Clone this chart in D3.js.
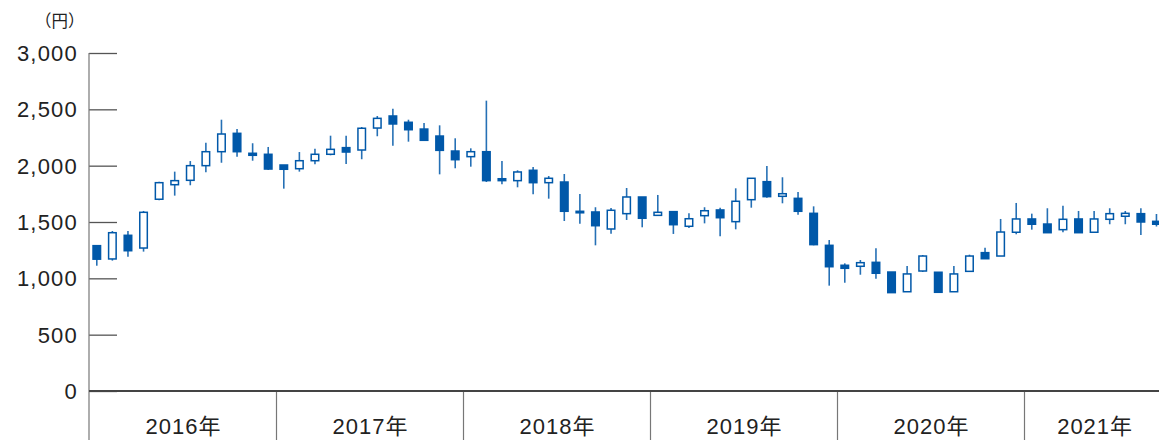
<!DOCTYPE html>
<html>
<head>
<meta charset="utf-8">
<style>
  body { margin: 0; background: #fff; }
  svg { display: block; font-family: "Liberation Sans", Arial, "Noto Sans CJK JP", sans-serif; }
</style>
</head>
<body>
<script src="https://d3js.org/d3.v7.min.js"></script>
<svg id="chart" width="1159" height="440"></svg>
<script>
// monthly candles, Jan 2016 .. Sep 2021
var months = d3.range(69).map(function (i) { return (2016 + Math.floor(i / 12)) + "-" + (i % 12 + 1); });
var opens  = [1290,1172,1382,1269,1702,1831,1870,2000,2124,2287,2110,2101,
              2006,1973,2044,2101,2160,2139,2334,2441,2385,2325,2263,2130,
              2080,2124,1884,1867,1959,1849,1855,1595,1589,1438,1574,1722,
              1559,1592,1462,1556,1607,1503,1698,1858,1728,1710,1577,1293,
              1116,1107,1142,1056,881,1065,1054,881,1062,1228,1198,1409,
              1527,1482,1432,1527,1409,1524,1551,1574,1506];
var closes = [1170,1405,1245,1586,1849,1867,2000,2124,2281,2124,2092,1970,
              1968,2044,2101,2145,2121,2332,2420,2370,2319,2225,2136,2053,
              2124,1867,1867,1944,1849,1888,1595,1590,1467,1604,1722,1533,
              1586,1476,1529,1600,1538,1684,1888,1725,1751,1595,1299,1103,
              1089,1139,1045,873,1039,1198,876,1039,1198,1174,1411,1527,
              1480,1405,1524,1405,1527,1574,1577,1500,1480];
var highs  = [1295,1420,1420,1598,1858,1947,2041,2204,2408,2325,2199,2166,
              2006,2121,2151,2266,2266,2343,2441,2506,2408,2379,2358,2243,
              2154,2577,2041,1959,1988,1908,1926,1749,1631,1624,1802,1722,
              1740,1592,1577,1631,1627,1799,1888,1997,1897,1766,1639,1340,
              1133,1163,1267,1056,1110,1207,1054,1110,1210,1272,1527,1669,
              1574,1622,1645,1598,1598,1622,1598,1622,1571];
var lows   = [1112,1157,1192,1237,1693,1734,1826,1941,2026,2080,2044,1962,
              1796,1947,2012,2092,2015,2057,2261,2177,2213,2225,1923,1977,
              1991,1855,1835,1808,1746,1707,1509,1485,1293,1396,1518,1453,
              1559,1394,1447,1488,1373,1435,1627,1716,1666,1565,1293,935,
              961,1032,997,873,881,1056,876,881,1056,1174,1198,1391,
              1432,1405,1409,1405,1409,1480,1480,1385,1460];
var years = ["2016年","2017年","2018年","2019年","2020年","2021年"];
var yTicks = [0, 500, 1000, 1500, 2000, 2500, 3000];

var svg = d3.select("#chart");
var plotLeft = 89, plotTop = 53, plotBottom = 391, monthW = 187 / 12;
var blue = "#0058a9", axisGray = "#777";

var x = d3.scaleBand().domain(months).range([plotLeft, plotLeft + monthW * months.length])
  .paddingInner(0.42).paddingOuter(0.21);
var y = d3.scaleLinear().domain([0, 3000]).range([plotBottom, plotTop]);

// y axis: ticks drawn to the right of the axis line, labels to the left
var yAxis = svg.append("g").attr("transform", "translate(" + plotLeft + ",0)")
  .call(d3.axisRight(y).tickValues(yTicks).tickSize(28).tickFormat(""));
yAxis.select(".domain").remove();
yAxis.selectAll(".tick line").attr("stroke", "#555").attr("stroke-width", 1.3);

svg.append("g").selectAll("text").data(yTicks).enter().append("text")
  .attr("x", 78).attr("y", function (d) { return y(d); }).attr("dy", "0.36em")
  .attr("text-anchor", "end").attr("font-size", 22).attr("letter-spacing", 1.2).attr("fill", "#222")
  .text(d3.format(","));

svg.append("text").attr("x", 35).attr("y", 27).attr("font-size", 16.5).attr("fill", "#222")
  .attr("font-family", "'Noto Sans CJK JP', sans-serif").text("（円）");

svg.append("line").attr("x1", plotLeft).attr("x2", plotLeft).attr("y1", plotTop).attr("y2", 440)
  .attr("stroke", axisGray).attr("stroke-width", 1.2);

// year bands below the zero line; last year is centred on its visible months
var xEnd = plotLeft + monthW * months.length;
var yearX = d3.scaleLinear().domain([0, 1]).range([plotLeft, plotLeft + monthW * 12]);
var labelX = function (d, i) {
  var a = yearX(i), b = Math.min(yearX(i + 1), xEnd);
  return (a + b) / 2 + 1;
};
svg.append("g").selectAll("line").data(years.slice(1)).enter().append("line")
  .attr("x1", function (d, i) { return Math.round(yearX(i + 1)) + 0.5; })
  .attr("x2", function (d, i) { return Math.round(yearX(i + 1)) + 0.5; })
  .attr("y1", plotBottom).attr("y2", 440).attr("stroke", axisGray).attr("stroke-width", 1.2);
svg.append("g").selectAll("text").data(years).enter().append("text")
  .attr("x", labelX).attr("y", 434)
  .attr("text-anchor", "middle").attr("font-size", 22).attr("letter-spacing", 1.0).attr("fill", "#222")
  .text(function (d) { return d; });

svg.append("line").attr("x1", plotLeft).attr("x2", 1159).attr("y1", plotBottom).attr("y2", plotBottom)
  .attr("stroke", "#444").attr("stroke-width", 2);

// candles
var idx = d3.range(months.length);
var cx = function (i) { return x(months[i]) + x.bandwidth() / 2; };
var g = svg.append("g");
g.selectAll("line.wick").data(idx).enter().append("line").attr("class", "wick")
  .attr("x1", cx).attr("x2", cx)
  .attr("y1", function (i) { return y(highs[i]); })
  .attr("y2", function (i) { return y(lows[i]); })
  .attr("stroke", blue).attr("stroke-width", 1.6).attr("opacity", 0.85);
g.selectAll("rect").data(idx).enter().append("rect")
  .attr("x", function (i) { return x(months[i]) + 0.75; })
  .attr("width", x.bandwidth() - 1.5)
  .attr("y", function (i) { return y(Math.max(opens[i], closes[i])); })
  .attr("height", function (i) { return Math.max(1.5, Math.abs(y(opens[i]) - y(closes[i]))); })
  .attr("fill", function (i) { return closes[i] >= opens[i] ? "#fff" : blue; })
  .attr("stroke", blue).attr("stroke-width", 1.5);
</script>
</body>
</html>
